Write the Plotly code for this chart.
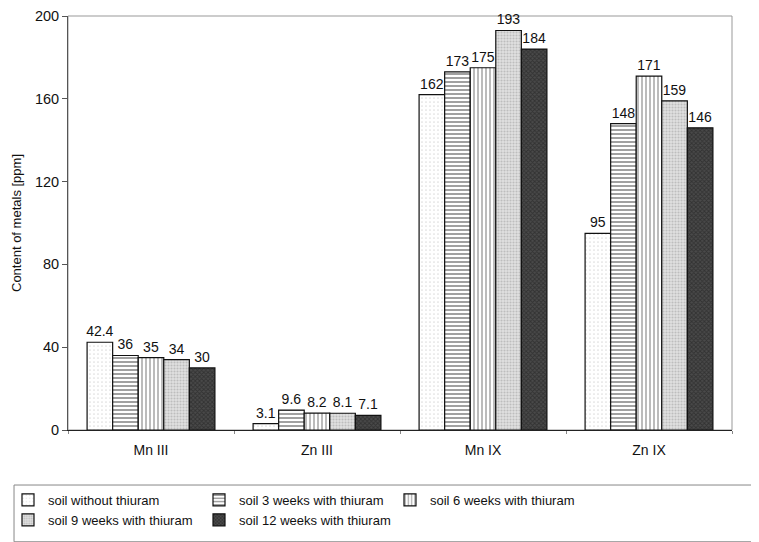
import plotly.graph_objects as go

categories = ["Mn III", "Zn III", "Mn IX", "Zn IX"]
series_names = [
    "soil without thiuram",
    "soil 3 weeks with thiuram",
    "soil 6 weeks with thiuram",
    "soil 9 weeks with thiuram",
    "soil 12 weeks with thiuram",
]
s0 = [42.4, 3.1, 162, 95]
s1 = [36, 9.6, 173, 148]
s2 = [35, 8.2, 175, 171]
s3 = [34, 8.1, 193, 159]
s4 = [30, 7.1, 184, 146]
labels0 = ["42.4", "3.1", "162", "95"]
labels1 = ["36", "9.6", "173", "148"]
labels2 = ["35", "8.2", "175", "171"]
labels3 = ["34", "8.1", "193", "159"]
labels4 = ["30", "7.1", "184", "146"]

values = [s0, s1, s2, s3, s4]
texts = [labels0, labels1, labels2, labels3, labels4]
patterns = [
    dict(shape=".", fgcolor="#bbbbbb", bgcolor="#ffffff", size=4, solidity=0.15),
    dict(shape="-", fgcolor="#444444", bgcolor="#ffffff", size=4, solidity=0.5),
    dict(shape="|", fgcolor="#555555", bgcolor="#ffffff", size=4, solidity=0.4),
    dict(shape=".", fgcolor="#999999", bgcolor="#e0e0e0", size=3, solidity=0.4),
    dict(shape="x", fgcolor="#1a1a1a", bgcolor="#4a4a4a", size=3, solidity=0.5),
]

fig = go.Figure()
for name, vals, txt, pat in zip(series_names, values, texts, patterns):
    fig.add_trace(go.Bar(
        name=name, x=categories, y=vals, text=txt,
        textposition="outside", cliponaxis=False, constraintext="none",
        textfont=dict(size=14, color="#111111", family="Liberation Sans, Arial"),
        marker=dict(color="#ffffff", pattern=pat,
                    line=dict(color="#111111", width=1.2)),
    ))

# the page adds an 8px body margin, so the figure is sized to 751x534
W, H = 751, 534
fig.update_layout(
    width=W, height=H,
    margin=dict(l=60, r=27, t=8, b=112, autoexpand=False),
    paper_bgcolor="white", plot_bgcolor="white",
    barmode="group", bargap=0.23, bargroupgap=0,
    font=dict(family="Liberation Sans, Arial", size=13, color="#111111"),
    showlegend=True,
    legend=dict(
        orientation="h", xref="container", yref="container",
        x=0, xanchor="left", y=1 - 477 / H, yanchor="top",
        borderwidth=0, bgcolor="rgba(0,0,0,0)",
        entrywidth=146, entrywidthmode="pixels",
        font=dict(size=13, color="#111111"),
        itemwidth=30,
    ),
    xaxis=dict(
        showline=True, linecolor="#222222", linewidth=1.2, mirror=False,
        ticks="outside", tickson="boundaries", ticklen=3, tickcolor="#888888",
        tickfont=dict(size=14), showgrid=False, automargin=False,
        ticklabelstandoff=7,
    ),
    yaxis=dict(
        range=[0, 200], tickvals=[0, 40, 80, 120, 160, 200],
        showline=True, linecolor="#555555", linewidth=1, mirror=False,
        ticks="outside", ticklen=5, tickcolor="#555555",
        showgrid=False, zeroline=False, tickfont=dict(size=14.5),
        automargin=False, ticklabeloverflow="allow",
        title=dict(text="Content of metals [ppm]", font=dict(size=13), standoff=10),
    ),
)
# light gray frame on top and right of plot area
fig.add_shape(type="rect", xref="paper", yref="paper", x0=0, y0=0, x1=1, y1=1,
              line=dict(color="#999999", width=1), layer="below")
# legend frame (extends past the right edge, as in the original)
fig.add_shape(type="rect", xref="paper", yref="paper",
              x0=-0.0813, x1=1.06, y0=-0.270, y1=-0.1329,
              line=dict(color="#888888", width=1), layer="below")

fig.write_html("out.html")
